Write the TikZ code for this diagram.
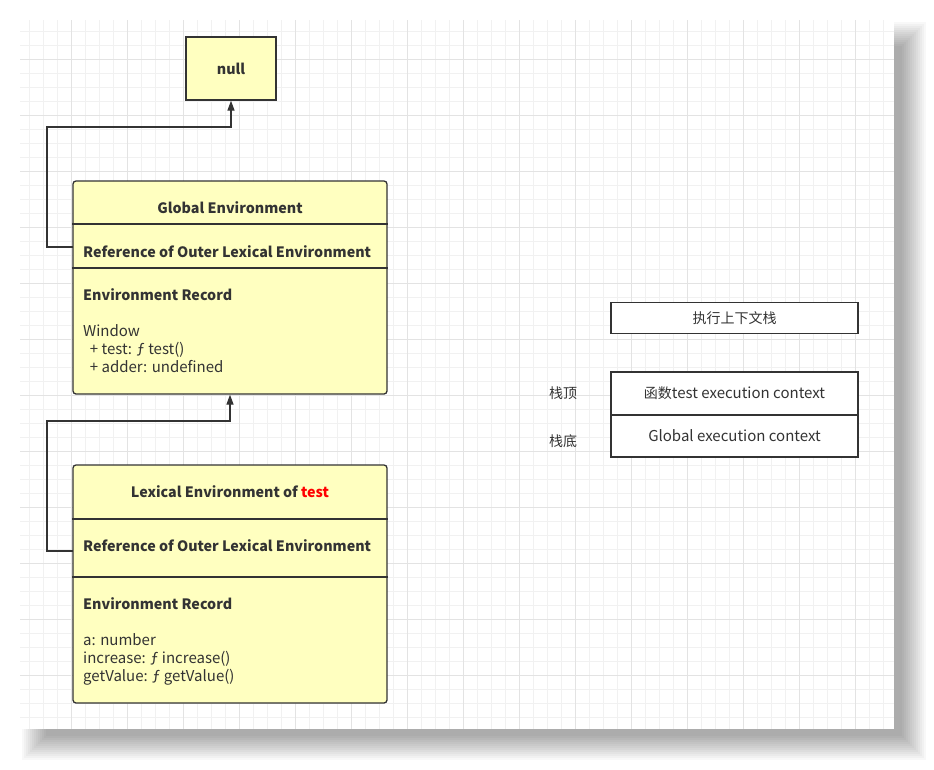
\documentclass[tikz,border=0pt]{standalone}
\usepackage{fontspec}
\setmainfont{Noto Sans CJK SC}
\usetikzlibrary{arrows.meta}
\definecolor{ink}{HTML}{333333}
\definecolor{boxfill}{HTML}{FFFFC0}
\definecolor{gridminor}{HTML}{F1F1F1}
\definecolor{gridmajor}{HTML}{E3E3E3}
\newcommand{\cjksz}{\fontsize{14}{17}\selectfont}
\begin{document}
\begin{tikzpicture}[x=1pt,y=-1pt,
  font=\fontsize{15}{18}\selectfont, text=ink,
  envbox/.style={draw=ink, line width=1.3pt, fill=boxfill, rounded corners=3pt, inner sep=0pt},
  stackbox/.style={draw=ink, line width=1.3pt, fill=white, inner sep=0pt, minimum width=247pt},
  divider/.style={draw=ink, line width=1.3pt},
  conn/.style={draw=ink, line width=1.3pt, -{Triangle[length=10pt,width=7pt]}},
  lbl/.style={inner sep=0pt, anchor=base west},
  boldlbl/.style={lbl, font=\fontsize{14.3}{17}\selectfont\bfseries},
  ttl/.style={inner sep=0pt, font=\fontsize{14.3}{17}\selectfont\bfseries}]
\useasboundingbox (0,0) rectangle (934,769);
\fill[white] (0,0) rectangle (934,769);
% shadow
\foreach \e in {-12,-10,...,12}
  \fill[black,opacity=0.028] ({34-(\e)},{34-(\e)}) rectangle ({914+\e},{748+\e});
% canvas with grid
\fill[white] (20,20) rectangle (894,729);
\begin{scope}
  \clip (20,20) rectangle (894,729);
  \foreach \i in {0,...,64} \draw[gridminor, line width=1pt] ({15.3+14*\i},20) -- ({15.3+14*\i},729);
  \foreach \i in {0,...,52} \draw[gridminor, line width=1pt] (20,{3.7+14*\i}) -- (894,{3.7+14*\i});
  \foreach \i in {0,...,16} \draw[gridmajor, line width=1pt] ({15.3+56*\i},20) -- ({15.3+56*\i},729);
  \foreach \i in {0,...,13} \draw[gridmajor, line width=1pt] (20,{3.7+56*\i}) -- (894,{3.7+56*\i});
\end{scope}

% null
\node[envbox, rounded corners=0pt, minimum width=90pt, minimum height=63pt, font=\fontsize{14.3}{17}\selectfont\bfseries] (null) at (231,68.5) {null};

% Global Environment
\node[envbox, minimum width=314pt, minimum height=213pt] (ge) at (230,287.5) {};
\draw[divider] (ge.west |- 0,224) -- (ge.east |- 0,224);
\draw[divider] (ge.west |- 0,268) -- (ge.east |- 0,268);
\node[ttl] (geTitle) at (230,208) {Global Environment};
\node[boldlbl] (geRefText) at (83,257) {Reference of Outer Lexical Environment};
\node[boldlbl] (geRecTitle) at (83,300) {Environment Record};
\node[lbl] (geL1) at (83,336) {Window};
\node[lbl] (geL2) at (83,354) {\ \ + test: ƒ test()};
\node[lbl] (geL3) at (83,372) {\ \ + adder: undefined};
\coordinate (geRef) at (73,247);

% Lexical Environment of test
\node[envbox, minimum width=314pt, minimum height=238pt] (le) at (230,584) {};
\draw[divider] (le.west |- 0,519) -- (le.east |- 0,519);
\draw[divider] (le.west |- 0,577) -- (le.east |- 0,577);
\node[ttl] (leTitle) at (230,492) {Lexical Environment of \textcolor{red}{test}};
\node[boldlbl] (leRefText) at (83,551) {Reference of Outer Lexical Environment};
\node[boldlbl] (leRecTitle) at (83,609) {Environment Record};
\node[lbl] (leL1) at (83,645) {a: number};
\node[lbl] (leL2) at (83,663) {increase: ƒ increase()};
\node[lbl] (leL3) at (83,681) {getValue: ƒ getValue()};
\coordinate (leRef) at (73,551);

% connectors
\draw[conn] (geRef) -- (47,247) -- (47,127) -- (231,127) -- (null.south);
\draw[conn] (leRef) -- (47,551) -- (47,421) -- (230,421) -- (ge.south);

% execution context stack
\node[stackbox, minimum height=31pt, font=\cjksz] (stackTitle) at (734.5,318) {执行上下文栈};
\node[stackbox, minimum height=43pt] (ctxTest) at (734.5,393.5) {{\cjksz 函数}test execution context};
\node[stackbox, minimum height=42pt] (ctxGlobal) at (734.5,436) {Global execution context};
\node[inner sep=0pt, font=\cjksz] (topLabel) at (563,393) {栈顶};
\node[inner sep=0pt, font=\cjksz] (bottomLabel) at (563,441) {栈底};
\end{tikzpicture}
\end{document}
